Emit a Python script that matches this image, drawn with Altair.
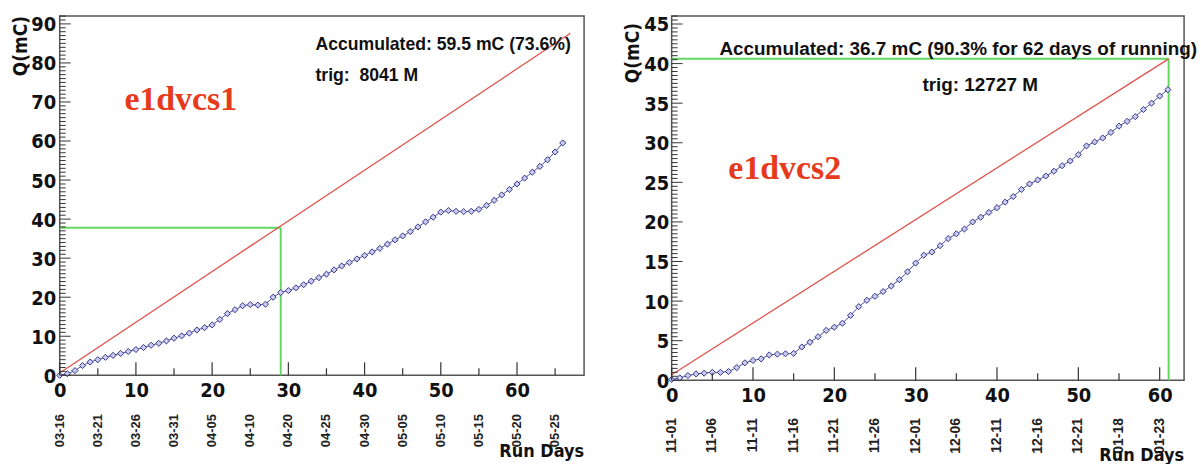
import altair as alt
import pandas as pd

# ---------------- data ----------------
left_q = [0.0, 0.4, 1.2, 2.5, 3.4, 4.0, 4.6, 5.1, 5.6, 6.1,
          6.6, 7.1, 7.7, 8.2, 8.8, 9.5, 10.1, 10.8, 11.6, 12.2,
          12.9, 14.3, 15.8, 16.8, 17.8, 18.1, 18.0, 18.2, 20.0, 21.2,
          21.7, 22.4, 23.2, 24.1, 25.0, 25.9, 27.0, 28.0, 28.9, 29.8,
          30.7, 31.6, 32.5, 33.6, 34.7, 35.7, 36.8, 38.0, 39.3, 40.5,
          41.8, 42.2, 42.0, 41.9, 42.0, 42.5, 43.5, 44.8, 46.2, 47.6,
          49.0, 50.5, 52.0, 53.5, 55.2, 57.2, 59.5]
right_q = [0.1, 0.3, 0.6, 0.8, 0.9, 1.0, 1.0, 1.1, 1.6, 2.2,
           2.5, 2.7, 3.2, 3.3, 3.35, 3.4, 4.2, 4.8, 5.5, 6.3,
           6.7, 7.2, 8.2, 9.3, 10.1, 10.6, 11.2, 11.9, 12.7, 13.7,
           14.8, 15.8, 16.2, 17.0, 17.9, 18.5, 19.1, 20.0, 20.6, 21.2,
           21.8, 22.5, 23.2, 24.1, 24.8, 25.3, 25.8, 26.4, 27.1, 27.7,
           28.5, 29.6, 30.1, 30.6, 31.3, 32.1, 32.7, 33.3, 34.2, 35.0,
           35.9, 36.7]

left_red_x = [0, 67]
left_red_y = [0.6, 87.6]
right_red_x = [0, 61.1]
right_red_y = [0.7, 40.6]

left_green_day = 29
left_green_q = 37.8
right_green_day = 61.1
right_green_q = 40.6

left_dates = ["03-16", "03-21", "03-26", "03-31", "04-05", "04-10", "04-20",
              "04-25", "04-30", "05-05", "05-10", "05-15", "05-20", "05-25"]
left_date_days = [0, 5, 10, 15, 20, 25, 30, 35, 40, 45, 50, 55, 60, 65]
right_dates = ["11-01", "11-06", "11-11", "11-16", "11-21", "11-26", "12-01",
               "12-06", "12-11", "12-16", "12-21", "01-18", "01-23"]
right_date_days = [0, 5, 10, 15, 20, 25, 30, 35, 40, 45, 50, 55, 60]

left_y_labels = [0, 10, 20, 30, 40, 50, 60, 70, 80, 90]
right_y_labels = [0, 5, 10, 15, 20, 25, 30, 35, 40, 45]
x_labels = [0, 10, 20, 30, 40, 50, 60]

AX_FONT = "Liberation Sans Narrow, DejaVu Sans Condensed, Liberation Sans"
TXT_FONT = "Liberation Sans, Arial, sans-serif"
BLUE_LINE = "#4d4d9c"
BLUE_STROKE = "#36368a"
BLUE_FILL = "#c9cbef"
RED = "#e0524c"
GREEN = "#62d862"
TITLE_RED = "#e63a1c"


def panel(q, red_x, red_y, g_day, g_q, dates, date_days, ylabels,
          xdom, ydom, w, h, yminor_step, ymajor_step, ylab_pad,
          acc_text, acc_x, acc_y, acc_size,
          trig_text, trig_x, trig_y,
          name, name_x, name_y,
          qtitle_y, date_off, date_size, rd_off):
    xs = alt.Scale(domain=xdom, nice=False, zero=False)
    ys = alt.Scale(domain=ydom, nice=False, zero=False)

    xaxis = alt.Axis(values=x_labels, ticks=False, tickSize=0, domain=False,
                     grid=False, title=None, labelFont=AX_FONT, labelFontSize=20,
                     labelFontWeight="bold", labelPadding=5, labelFlush=False,
                     labelColor="#111")
    yaxis = alt.Axis(values=ylabels, ticks=False, tickSize=0, domain=False,
                     grid=False, title=None, labelFont=AX_FONT, labelFontSize=20,
                     labelFontWeight="bold", labelPadding=ylab_pad, labelFlush=False,
                     labelColor="#111", labelOffset=1)

    def X(f):
        return alt.X(f, type="quantitative", scale=xs, axis=xaxis)

    def Y(f):
        return alt.Y(f, type="quantitative", scale=ys, axis=yaxis)

    data_df = pd.DataFrame({"day": list(range(len(q))), "q": q})
    red_df = pd.DataFrame({"day": red_x, "q": red_y})
    gh_df = pd.DataFrame({"x0": [0], "x1": [g_day], "y": [g_q]})
    gv_df = pd.DataFrame({"x": [g_day], "y0": [0], "y1": [g_q]})

    n_minor = int(round(ydom[1] / yminor_step))
    yt = [round(i * yminor_step, 3) for i in range(n_minor + 1)]
    ymaj = [v for v in yt if abs(v / ymajor_step - round(v / ymajor_step)) < 1e-6]
    ymin = [v for v in yt if v not in ymaj]
    xmaj = [v for v in range(0, int(xdom[1]) + 1) if v % 10 == 0]
    xmin = [v for v in range(0, int(xdom[1]) + 1) if v % 5 == 0 and v % 10 != 0]

    layers = []
    layers.append(alt.Chart(data_df).mark_line(color=BLUE_LINE, strokeWidth=1).encode(
        x=X("day"), y=Y("q")))
    layers.append(alt.Chart(gh_df).mark_rule(color=GREEN, strokeWidth=2).encode(
        x=X("x0"), x2="x1", y=Y("y")))
    layers.append(alt.Chart(gv_df).mark_rule(color=GREEN, strokeWidth=2).encode(
        x=X("x"), y=Y("y0"), y2="y1"))
    layers.append(alt.Chart(red_df).mark_line(color=RED, strokeWidth=1.3).encode(
        x=X("day"), y=Y("q")))
    layers.append(alt.Chart(data_df).mark_point(
        shape="diamond", size=38, filled=True, fill=BLUE_FILL, stroke=BLUE_STROKE,
        strokeWidth=1, opacity=1).encode(x=X("day"), y=Y("q")))
    # axis ticks drawn inside the frame
    layers.append(alt.Chart(pd.DataFrame({"v": ymaj})).mark_rule(
        color="#333", strokeWidth=1).encode(y=Y("v"), x=alt.value(0), x2=alt.value(11)))
    layers.append(alt.Chart(pd.DataFrame({"v": ymin})).mark_rule(
        color="#333", strokeWidth=1).encode(y=Y("v"), x=alt.value(0), x2=alt.value(6)))
    layers.append(alt.Chart(pd.DataFrame({"v": xmaj})).mark_rule(
        color="#333", strokeWidth=1.2).encode(x=X("v"), y=alt.value(h), y2=alt.value(h - 13)))
    layers.append(alt.Chart(pd.DataFrame({"v": xmin})).mark_rule(
        color="#333", strokeWidth=1.2).encode(x=X("v"), y=alt.value(h), y2=alt.value(h - 7)))
    # date labels
    layers.append(alt.Chart(pd.DataFrame({"d": date_days, "t": dates})).mark_text(
        angle=270, align="right", baseline="middle", font=TXT_FONT,
        fontSize=date_size, fontWeight="bold", color="#222").encode(
        x=X("d"), y=alt.value(h + date_off), text="t:N"))

    # texts
    def txt(s, x, y, size, **kw):
        return alt.Chart(pd.DataFrame({"t": [s]})).mark_text(
            font=kw.get("font", TXT_FONT), fontSize=size,
            fontWeight="bold", color=kw.get("color", "#111"),
            align=kw.get("align", "left"), baseline=kw.get("baseline", "alphabetic"),
            angle=kw.get("angle", 0)).encode(
            x=alt.value(x), y=alt.value(y), text="t:N")

    layers.append(txt(acc_text, acc_x, acc_y, acc_size))
    layers.append(txt(trig_text, trig_x, trig_y, acc_size))
    layers.append(txt(name, name_x, name_y, 34,
                      font="Liberation Serif, Times New Roman, serif", color=TITLE_RED))
    layers.append(txt("Q(mC)", -39, qtitle_y, 19, angle=270, align="right",
                      baseline="middle", font=AX_FONT))
    layers.append(txt("Run Days", w, h + rd_off, 18, align="right", font=AX_FONT))

    return alt.layer(*layers).properties(width=w, height=h)


left = panel(left_q, left_red_x, left_red_y, left_green_day, left_green_q,
             left_dates, left_date_days, left_y_labels,
             [0, 68.8], [0, 92], 527, 361, 1, 10, 4,
             "Accumulated: 59.5 mC (73.6%)", 257, 34, 17.7,
             "trig:\u00a0 8041 M", 257, 65,
             "e1dvcs1", 65, 94,
             0, 39, 13, 82)

right = panel(right_q, right_red_x, right_red_y, right_green_day, right_green_q,
              right_dates, right_date_days, right_y_labels,
              [0, 63.0], [0, 46], 515, 366, 0.5, 5, 3,
              "Accumulated: 36.7 mC (90.3% for 62 days of running)", 48, 39, 19,
              "trig: 12727 M", 252, 75,
              "e1dvcs2", 57, 164,
              7, 38, 14, 81)

chart = alt.hconcat(left, right, spacing=88, bounds="flush").properties(
    padding={"left": 11, "top": 13, "right": 2, "bottom": 0},
    background="white",
).configure_view(stroke="#555", strokeWidth=1.5)

chart.save("out.html", embed_options={"renderer": "svg", "actions": False})
